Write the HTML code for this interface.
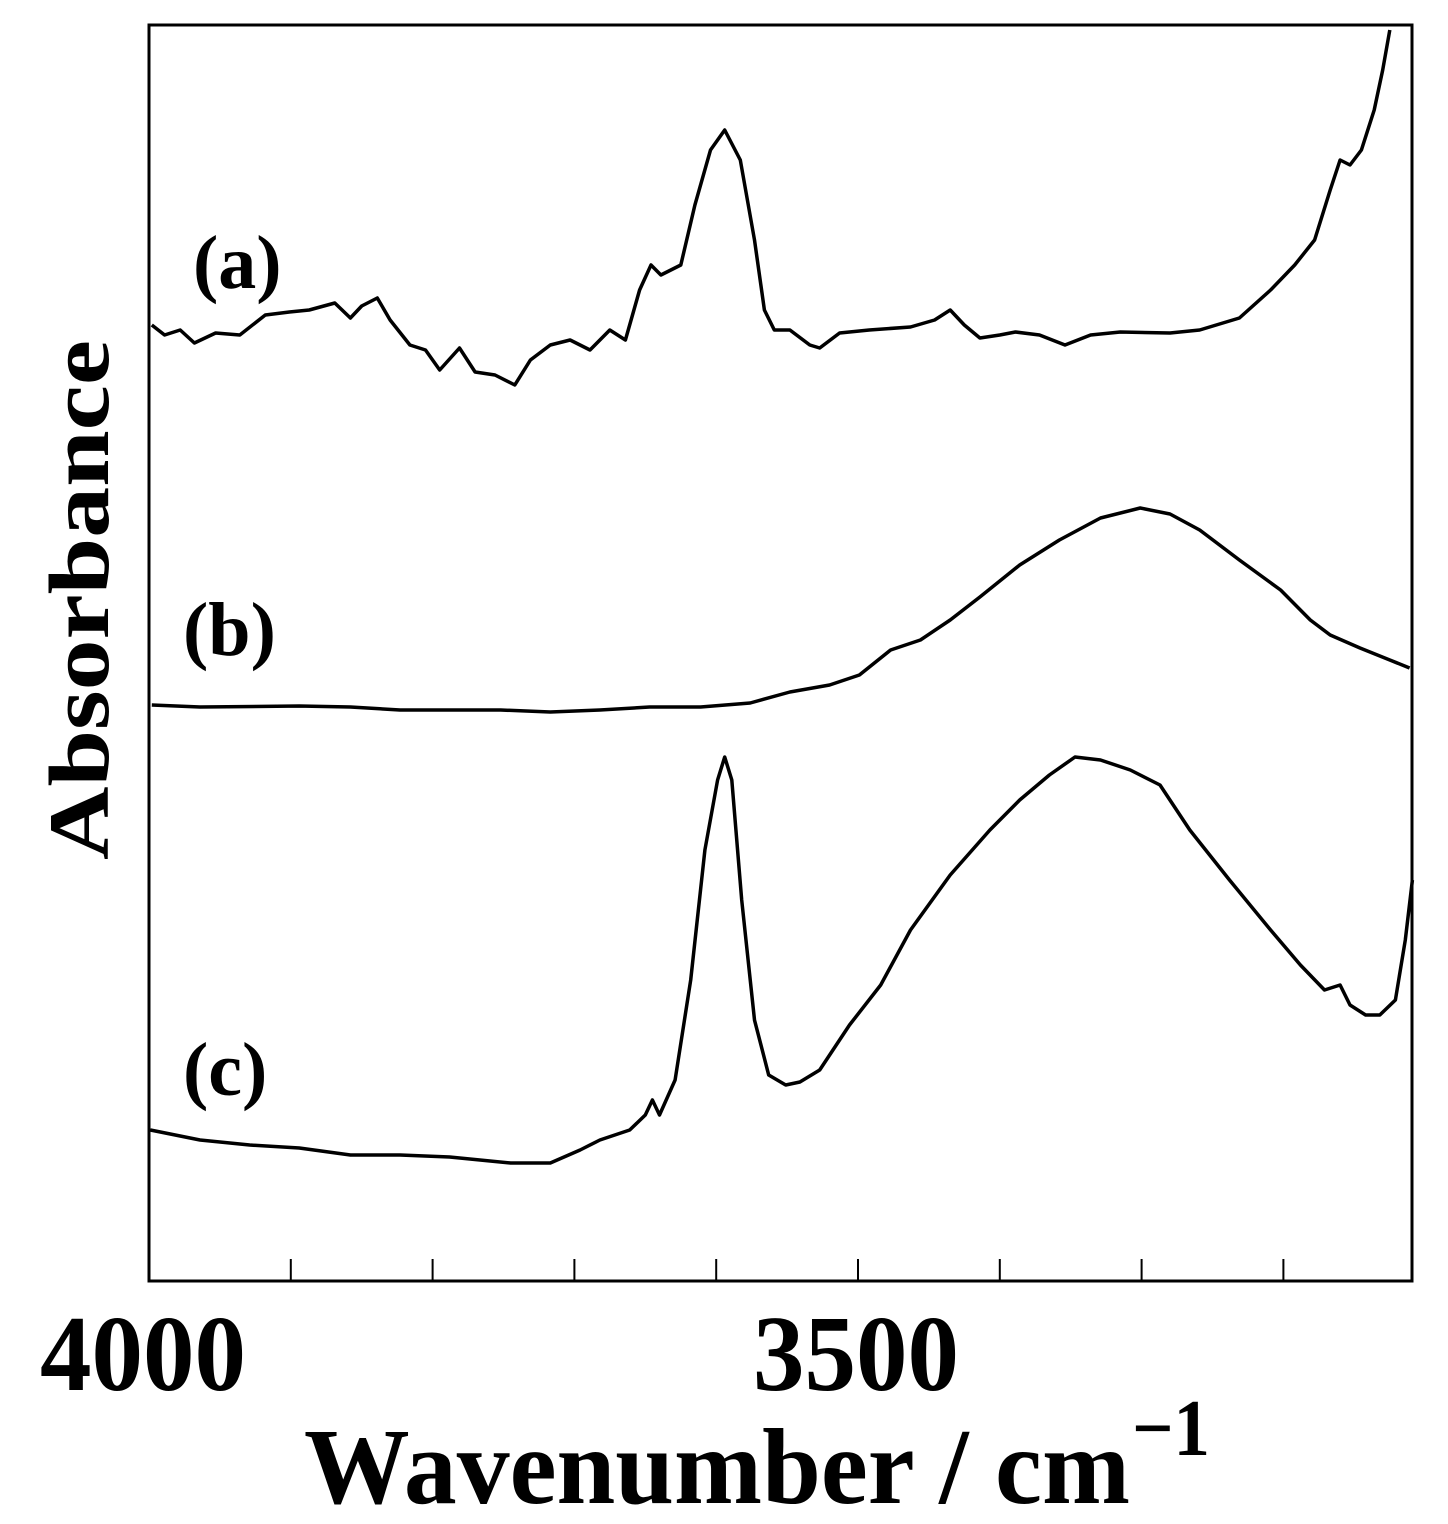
<!DOCTYPE html>
<html><head><meta charset="utf-8"><style>
html,body{margin:0;padding:0;background:#fff;}
svg{display:block;}
text{font-family:"Liberation Serif",serif;font-weight:bold;fill:#000;}
</style></head><body>
<svg id="chart" width="1448" height="1524" viewBox="0 0 1448 1524" xmlns="http://www.w3.org/2000/svg">
<rect x="149" y="25" width="1263" height="1256" fill="none" stroke="#000" stroke-width="3"/>
<g id="ticks"></g>
<g id="series"></g>
<text x="193" y="288" font-size="76">(a)</text>
<text x="183" y="655" font-size="76">(b)</text>
<text x="183" y="1095" font-size="76">(c)</text>
<text transform="translate(108,600) rotate(-90)" text-anchor="middle" font-size="86" textLength="520" lengthAdjust="spacingAndGlyphs">Absorbance</text>
<text x="40" y="1390" font-size="108" textLength="206" lengthAdjust="spacingAndGlyphs">4000</text>
<text x="753" y="1390" font-size="108" textLength="206" lengthAdjust="spacingAndGlyphs">3500</text>
<text x="304" y="1503" font-size="108" textLength="826" lengthAdjust="spacingAndGlyphs">Wavenumber / cm</text>
<text x="1132" y="1455" font-size="80" textLength="78" lengthAdjust="spacingAndGlyphs">−1</text>
</svg>
<script>
const tickValues = [3900, 3800, 3700, 3600, 3500, 3400, 3300, 3200];
const wnA = [3998,3989,3978,3968,3953,3936,3918,3901,3887,3869,3858,3850,3839,3830,3816,3805,3795,3781,3770,3756,3742,3731,3717,3703,3689,3675,3664,3654,3646,3639,3625,3615,3604,3594,3583,3573,3566,3559,3548,3534,3527,3513,3492,3463,3446,3435,3425,3414,3400,3389,3372,3354,3336,3315,3280,3259,3231,3209,3192,3178,3167,3160,3153,3145,3136,3130,3125];
const absA = [957,947,952,939,949,947,967,970,972,979,964,976,984,962,937,932,912,934,910,907,897,922,937,942,932,952,942,992,1017,1007,1017,1077,1132,1152,1122,1042,972,952,952,937,934,949,952,955,962,972,957,944,947,950,947,937,947,950,949,952,964,992,1017,1042,1092,1122,1117,1132,1172,1212,1252];
const wnB = [3998,3964,3894,3858,3823,3752,3717,3682,3647,3611,3576,3548,3520,3499,3477,3456,3435,3414,3386,3358,3329,3301,3280,3259,3231,3202,3181,3167,3146,3125,3111];
const absB = [577,575,576,575,572,572,570,572,575,575,579,590,597,607,632,642,662,685,717,742,764,774,768,752,722,692,662,647,634,622,614];
const wnC = [3999,3964,3929,3894,3858,3823,3788,3745,3717,3696,3682,3661,3650,3645,3640,3629,3618,3608,3599,3594,3589,3582,3573,3563,3551,3541,3527,3506,3484,3463,3435,3407,3386,3365,3347,3329,3308,3287,3266,3238,3209,3188,3171,3160,3153,3142,3132,3121,3114,3109];
const absC = [152,142,137,134,127,127,125,119,119,132,142,152,167,182,167,202,302,432,502,525,502,382,262,207,197,200,212,257,297,352,407,452,482,507,525,522,512,497,452,402,352,317,292,297,277,267,267,282,342,402];

const X0 = 149, PX_PER_WN = 1.418, Y0 = 1282;
function xScale(w){ return X0 + (4000 - w) * PX_PER_WN; }
function yScale(v){ return Y0 - v; }
const NS = "http://www.w3.org/2000/svg";
const tg = document.getElementById('ticks');
tickValues.forEach(t => {
  const l = document.createElementNS(NS,'line');
  
  
  l.setAttribute('x1', xScale(t)); l.setAttribute('x2', xScale(t));
  l.setAttribute('y1', 1281); l.setAttribute('y2', 1259);
  l.setAttribute('stroke', '#000'); l.setAttribute('stroke-width', '2');
  tg.appendChild(l);
});
const sg = document.getElementById('series');
[[wnA,absA,'a'],[wnB,absB,'b'],[wnC,absC,'c']].forEach(s => {
  const p = document.createElementNS(NS,'path');
  
  
  let d = '';
  s[0].forEach((w,i) => { d += (i ? 'L' : 'M') + xScale(w).toFixed(1) + ',' + yScale(s[1][i]).toFixed(1); });
  p.setAttribute('d', d);
  p.setAttribute('fill', 'none'); p.setAttribute('stroke', '#000');
  p.setAttribute('stroke-width', '3.5'); p.setAttribute('stroke-linejoin', 'round');
  sg.appendChild(p);
});
</script>
</body></html>
